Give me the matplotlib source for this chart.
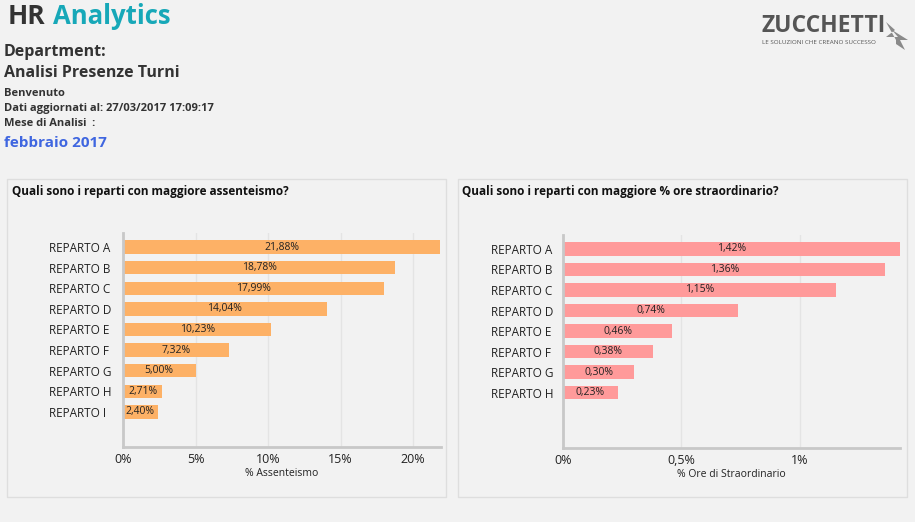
import matplotlib
matplotlib.use("Agg")
import matplotlib.pyplot as plt
from matplotlib.patches import Rectangle, Polygon

# Data
reparti_ass = ["REPARTO A", "REPARTO B", "REPARTO C", "REPARTO D", "REPARTO E",
               "REPARTO F", "REPARTO G", "REPARTO H", "REPARTO I"]
assenteismo = [21.88, 18.78, 17.99, 14.04, 10.23, 7.32, 5.00, 2.71, 2.40]
ticks_ass = [0, 5, 10, 15, 20]
ticklabels_ass = ["0%", "5%", "10%", "15%", "20%"]

reparti_str = ["REPARTO A", "REPARTO B", "REPARTO C", "REPARTO D", "REPARTO E",
               "REPARTO F", "REPARTO G", "REPARTO H"]
straordinario = [1.42, 1.36, 1.15, 0.74, 0.46, 0.38, 0.30, 0.23]
ticks_str = [0, 0.5, 1]
ticklabels_str = ["0%", "0,5%", "1%"]

W, H = 915, 522
BG = "#f2f2f2"
plt.rcParams['font.family'] = ['Open Sans', 'DejaVu Sans']

fig = plt.figure(figsize=(W / 100, H / 100), dpi=100)
fig.patch.set_facecolor(BG)


def px_axes(x0, y0, x1, y1):
    # pixel box (top-left origin) -> figure axes
    return fig.add_axes([x0 / W, 1 - y1 / H, (x1 - x0) / W, (y1 - y0) / H])


def px_text(x, y, s, **kw):
    fig.text(x / W, 1 - y / H, s, **kw)


def fmt(v):
    return "{:.2f}%".format(v).replace(".", ",")


# header
px_text(8, 17, "HR", fontsize=19, fontweight="bold", color="#333333", va="center")
px_text(53, 17, "Analytics", fontsize=18.5, fontweight="bold", color="#17a8b8", va="center")
px_text(4, 52, "Department:", fontsize=11.5, fontweight="bold", color="#333333", va="center")
px_text(4, 73, "Analisi Presenze Turni", fontsize=11.5, fontweight="bold", color="#333333", va="center")
px_text(4, 94, "Benvenuto", fontsize=8, fontweight="bold", color="#333333", va="center")
px_text(4, 109, "Dati aggiornati al: 27/03/2017 17:09:17", fontsize=8, fontweight="bold",
        color="#333333", va="center")
px_text(4, 124, "Mese di Analisi  :", fontsize=8, fontweight="bold", color="#333333", va="center")
px_text(4, 143, "febbraio 2017", fontsize=11, fontweight="bold", color="#3f66e0", va="center")

# logo
px_text(761, 26, "ZUCCHETTI", fontsize=16.5, fontweight="bold", color="#555555", va="center")
px_text(762, 42, "LE SOLUZIONI CHE CREANO SUCCESSO", fontsize=4.5, color="#555555", va="center")
arrow = [(886, 22), (895, 30), (886, 37), (898, 37), (892, 30), (908, 40),
         (900, 40), (905, 50), (896, 44), (896, 40)]
fig.patches.append(Polygon([(x / W, 1 - y / H) for x, y in arrow], closed=True,
                           transform=fig.transFigure, facecolor="#8a8a8a", edgecolor="none"))

# panels
for x0, x1 in [(7, 446), (458, 907)]:
    fig.patches.append(Rectangle((x0 / W, 1 - 497 / H), (x1 - x0) / W, (497 - 179) / H,
                                 transform=fig.transFigure, facecolor=BG,
                                 edgecolor="#dedede", linewidth=1, zorder=-5))

px_text(12, 191, "Quali sono i reparti con maggiore assenteismo?", fontsize=8.5,
        fontweight="bold", color="#111111", va="center")
px_text(462, 191, "Quali sono i reparti con maggiore % ore straordinario?", fontsize=8.5,
        fontweight="bold", color="#111111", va="center")


def draw(ax, cats, vals, color, xmax, ticks, tlabels, xlabel, label_px):
    ax.patch.set_alpha(0)
    y = list(range(len(cats)))
    ax.barh(y, vals, height=0.65, color=color, zorder=2)
    for yi, v in zip(y, vals):
        ax.text(v / 2, yi, fmt(v), ha="center", va="center", fontsize=7.5, color="#222222",
                zorder=3)
    ax.set_yticks(y)
    ax.set_yticklabels(cats, fontsize=8.5, color="#222222", ha="left")
    ax.set_ylim(9.7, -0.68)
    ax.set_xlim(0, xmax)
    ax.set_xticks(ticks)
    ax.set_xticklabels(tlabels, fontsize=9, color="#222222")
    ax.set_xlabel(xlabel, fontsize=7.5, color="#222222", labelpad=2)
    # left-aligned category labels, label_px pixels left of the axis
    ax.tick_params(length=0, axis="y", pad=label_px * 0.72)
    ax.tick_params(length=0, axis="x", pad=4)
    ax.grid(axis="x", color="#e4e4e4", linewidth=1, zorder=0)
    ax.set_axisbelow(True)
    for s in ["top", "right"]:
        ax.spines[s].set_visible(False)
    for s in ["left", "bottom"]:
        ax.spines[s].set_color("#c8c8c8")
        ax.spines[s].set_linewidth(2)


ax1 = px_axes(123, 233, 441, 447)
draw(ax1, reparti_ass, assenteismo, "#fdb166", 21.93, ticks_ass, ticklabels_ass,
     "% Assenteismo", 74)

ax2 = px_axes(563, 235, 900, 448)
draw(ax2, reparti_str, straordinario, "#ff9a9a", 1.422, ticks_str, ticklabels_str,
     "% Ore di Straordinario", 72)

fig.savefig("out.png", dpi=100, facecolor=BG)
